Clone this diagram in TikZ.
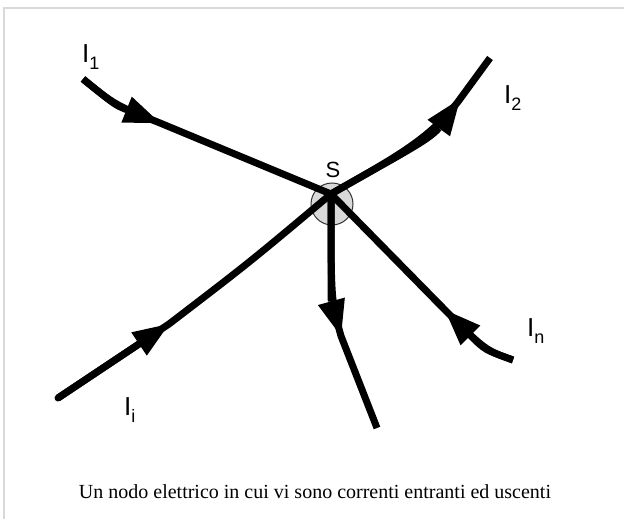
\documentclass[tikz,border=0pt]{standalone}
\usepackage{fontspec}
\setmainfont{Liberation Serif}
\newfontfamily\labelfont{Liberation Sans}
\usetikzlibrary{arrows.meta}
\tikzset{
  wire/.style={line width=7pt},
  wirearrow/.style={line width=7pt, -{Triangle[length=36pt, width=28pt, line width=0pt]}},
  curlabel/.style={font=\labelfont\fontsize{26}{26}\selectfont, anchor=base west, inner sep=0pt},
  nodedot/.style={circle, draw=black!80, fill=black!15, line width=1pt, minimum size=42pt, inner sep=0pt},
  framerule/.style={line width=1.5pt, black!15},
}
\newcommand{\corr}[1]{I\raisebox{-7pt}{\fontsize{18}{18}\selectfont #1}}

\begin{document}
\begin{tikzpicture}[x=1pt, y=-1pt]
  \useasboundingbox (0,0) rectangle (624,519);
  % cornice
  \draw[framerule] (4,519) -- (4,8) -- (624,8);
  % nodo
  \node[nodedot] (s) at (332,204) {};
  \coordinate (j) at (331,194);
  \node[font=\labelfont\fontsize{22}{22}\selectfont, anchor=base, inner sep=0pt] (slab) at (333,177) {S};
  % estremi e punte
  \coordinate (e1) at (83,79);   \coordinate (a1) at (160,123);
  \coordinate (ei) at (58,398);  \coordinate (ai) at (169,324);
  \coordinate (en) at (513,360); \coordinate (an) at (445,310);
  \coordinate (e2) at (490,58);  \coordinate (a2) at (460,99);
  \coordinate (ed) at (377,428); \coordinate (ad) at (341,336);
  % correnti entranti
  \draw[wire] (e1) .. controls (115,105) .. (a1) -- (j);
  \draw[wirearrow] (e1) .. controls (115,105) .. (a1);
  \draw[wire, line cap=round] (ei) -- (ai) .. controls (250,262) .. (j);
  \draw[wirearrow] (ei) -- (ai);
  \draw[wire] (en) .. controls (485,350) .. (an) -- (j);
  \draw[wirearrow] (en) .. controls (485,350) .. (an);
  % correnti uscenti
  \draw[wire] (j) .. controls (390,160) and (430,140) .. (a2) -- (e2);
  \draw[wirearrow] (j) .. controls (390,160) and (430,140) .. (a2);
  \draw[wire] (j) .. controls (331,300) .. (ad) -- (ed);
  \draw[wirearrow] (j) .. controls (331,300) .. (ad);
  % etichette
  \node[curlabel] (l1) at (82,63) {\corr{1}};
  \node[curlabel] (l2) at (504,103) {\corr{2}};
  \node[curlabel] (ln) at (527,336) {\corr{n}};
  \node[curlabel] (li) at (124,415) {\corr{i}};
  % didascalia
  \node[font=\fontsize{20}{24}\selectfont, anchor=base, inner sep=0pt] (cap) at (315,498)
    {Un nodo elettrico in cui vi sono correnti entranti ed uscenti};
\end{tikzpicture}
\end{document}
